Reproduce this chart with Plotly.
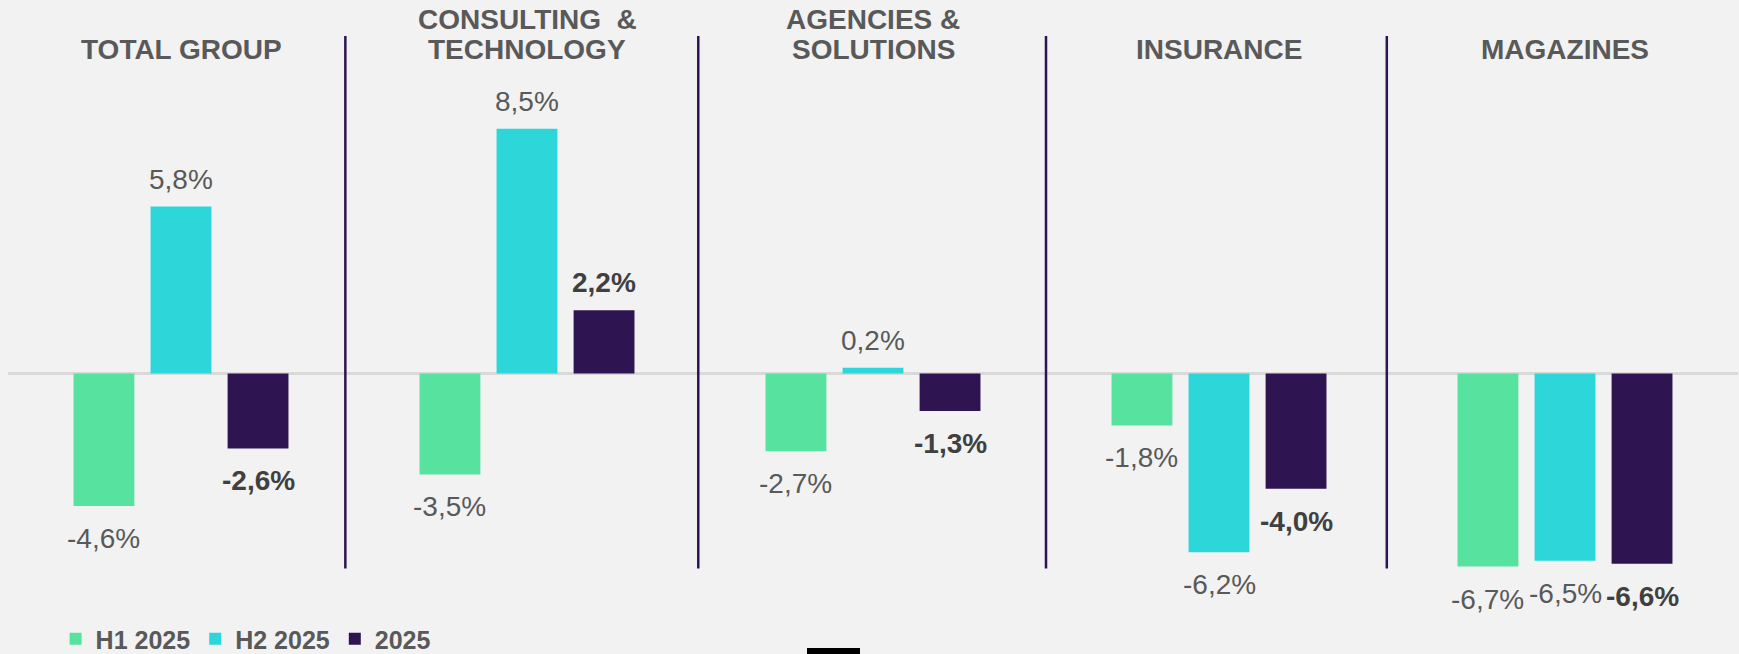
import plotly.graph_objects as go

categories = ["TOTAL GROUP", "CONSULTING  &<br>TECHNOLOGY", "AGENCIES &<br>SOLUTIONS", "INSURANCE", "MAGAZINES"]
series_names = ["H1 2025", "H2 2025", "2025"]
h1_2025 = [-4.6, -3.5, -2.7, -1.8, -6.7]
h2_2025 = [5.8, 8.5, 0.2, -6.2, -6.5]
fy_2025 = [-2.6, 2.2, -1.3, -4.0, -6.6]
series_values = [h1_2025, h2_2025, fy_2025]
colors = ["#57E39F", "#2DD6D9", "#2E1450"]
label_colors = ["#595959", "#595959", "#404040"]
label_bold = [False, False, True]

W, H = 1739, 654
M_L, M_R, M_T, M_B = 8, 1, 28, 50
Y_RANGE = [-8, 12]
BARGAP = 0.332
BARGROUPGAP = 0.21
FONT = "Liberation Sans, Arial, sans-serif"

fig = go.Figure()
for name, vals, col in zip(series_names, series_values, colors):
    fig.add_trace(go.Bar(
        x=list(range(len(categories))), y=vals, name=name,
        marker=dict(color=col, line=dict(width=0)),
        hoverinfo="skip",
    ))

slot = (1 - BARGAP) / len(series_names)
annotations = []
for j, vals in enumerate(series_values):
    for i, v in enumerate(vals):
        txt = f"{v:.1f}%".replace(".", ",")
        if label_bold[j]:
            txt = f"<b>{txt}</b>"
        annotations.append(dict(
            x=i + (j - 1) * slot, y=v, xref="x", yref="y",
            text=txt, showarrow=False,
            yanchor="bottom" if v >= 0 else "top",
            yshift=10 if v >= 0 else -15,
            font=dict(family=FONT, size=28, color=label_colors[j]),
        ))

# category titles (one annotation per line, tight line spacing)
plot_h = H - M_T - M_B
LAST_LINE_PX = 50
LINE_STEP = 31
for i, c in enumerate(categories):
    lines = c.split("<br>")
    n = len(lines)
    for k, line in enumerate(lines):
        ypx = LAST_LINE_PX - (n - 1 - k) * LINE_STEP
        annotations.append(dict(
            x=i, y=(H - M_B - ypx) / plot_h, xref="x", yref="paper",
            text=f"<b>{line.replace('  ', '&nbsp; ')}</b>",
            showarrow=False, yanchor="middle",
            font=dict(family=FONT, size=28, color="#595959"),
        ))

shapes = []
sep_positions = [0.475, 1.495, 2.5, 3.485]
for sx in sep_positions:
    shapes.append(dict(type="line", xref="x", yref="y", x0=sx, x1=sx,
                       y0=-6.77, y1=11.72, line=dict(color="#2E1450", width=2.5)))
# small black block at bottom edge (slide artefact)
shapes.append(dict(type="rect", xref="paper", yref="paper",
                   x0=(807 - M_L) / (W - M_L - M_R), x1=(860 - M_L) / (W - M_L - M_R),
                   y0=-(M_B - 6) / plot_h, y1=-M_B / plot_h - 0.01,
                   fillcolor="black", line=dict(width=0)))

fig.update_layout(
    width=W, height=H,
    margin=dict(l=M_L, r=M_R, t=M_T, b=M_B, autoexpand=False),
    paper_bgcolor="#F2F2F2", plot_bgcolor="#F2F2F2",
    barmode="group", bargap=BARGAP, bargroupgap=BARGROUPGAP,
    showlegend=True,
    legend=dict(orientation="h", x=0.0275, xanchor="left", y=-35 / plot_h, yanchor="middle",
                font=dict(family=FONT, size=25, color="#595959", weight="bold"),
                bgcolor="rgba(0,0,0,0)", itemclick=False, traceorder="normal"),
    xaxis=dict(range=[-0.5, 4.5], showticklabels=False, showgrid=False,
               zeroline=False, showline=False, ticks=""),
    yaxis=dict(range=Y_RANGE, showticklabels=False, showgrid=False,
               zeroline=True, zerolinecolor="#D9D9D9", zerolinewidth=3,
               showline=False, ticks=""),
    annotations=annotations,
    shapes=shapes,
    font=dict(family=FONT),
)
fig.write_html(
    "out.html",
    config={"displayModeBar": False},
    post_script="document.body.style.margin='0';document.body.style.background='#F2F2F2';document.documentElement.style.background='#F2F2F2';",
)
